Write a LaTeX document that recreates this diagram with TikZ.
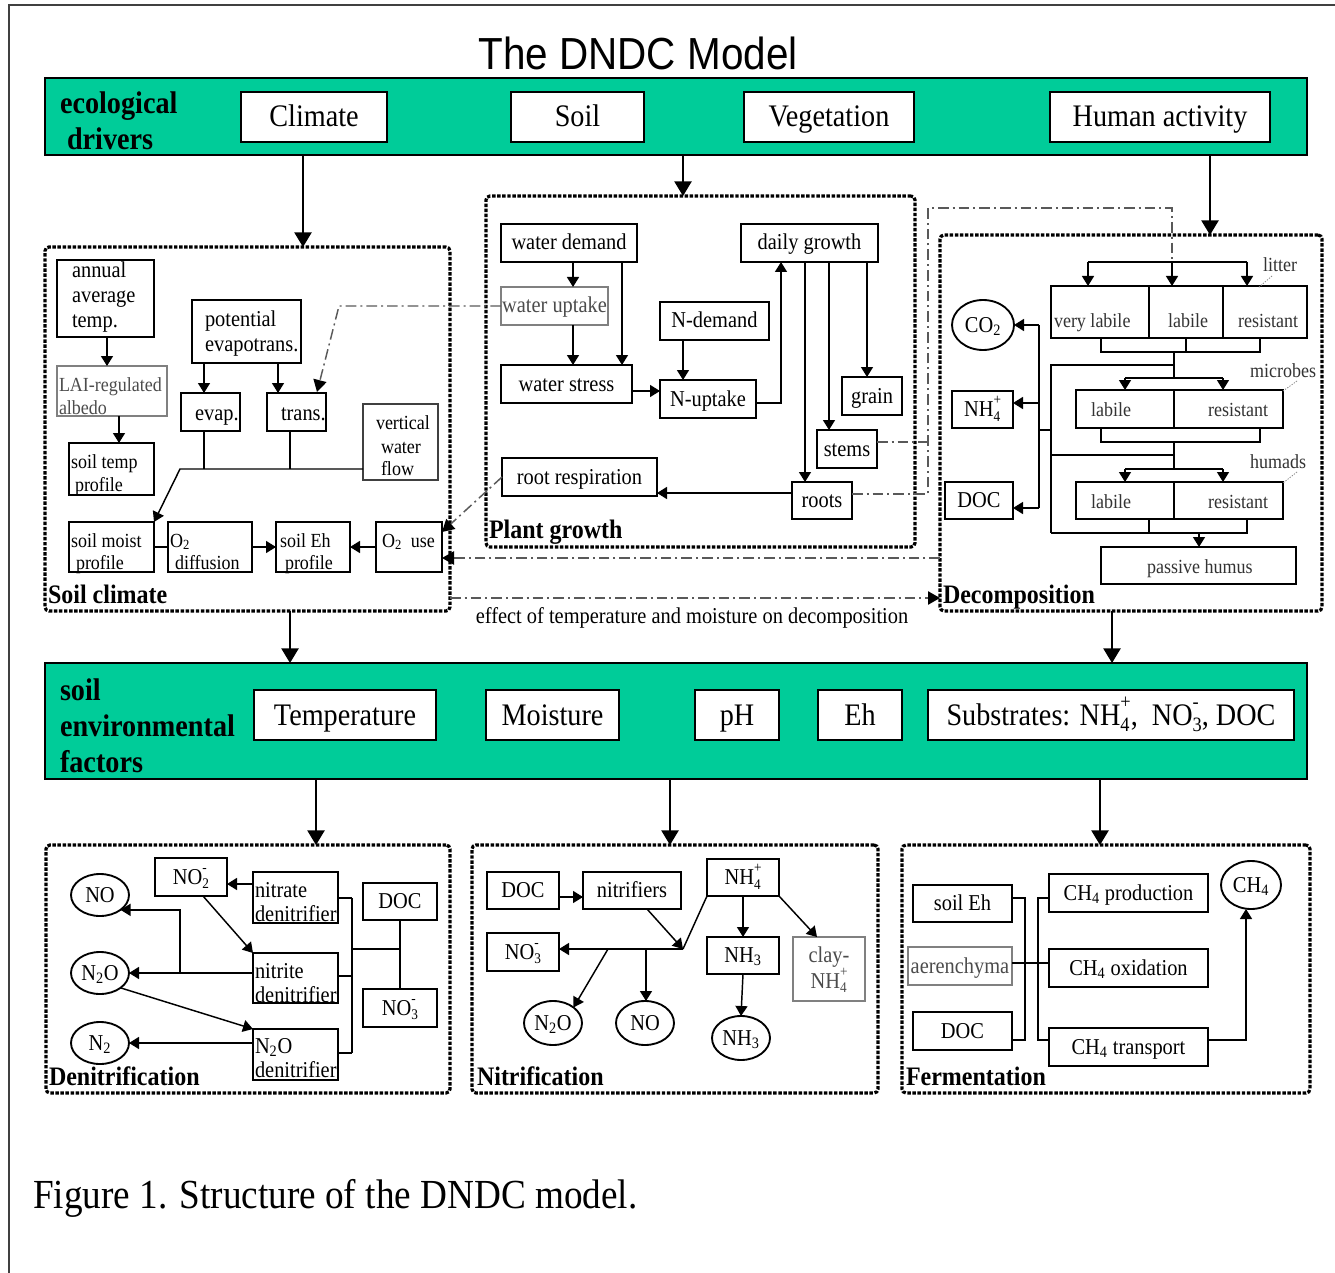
\documentclass[tikz,border=0pt]{standalone}
\usepackage{graphicx}
\usepackage{fontspec}
\setmainfont{Liberation Serif}[FakeStretch=0.9]
\newfontfamily\titlesans{Liberation Sans}[FakeStretch=0.9]
\usetikzlibrary{arrows.meta,shapes.geometric}
\definecolor{bandgreen}{RGB}{0,204,153}

% font sizes
\newcommand\sizeA{\fontsize{23.5}{28}\selectfont}
\newcommand\sizeB{\fontsize{17}{20}\selectfont}
\newcommand\sizeC{\fontsize{15}{18}\selectfont}
\newcommand\sizeL{\fontsize{20}{24}\selectfont}

% stacked subscript/superscript (NH4+, NO3-)
\newcommand\ssup[2]{%
  \sbox0{\raisebox{-0.22em}{\scalebox{0.65}{#1}}}%
  \sbox2{\raisebox{0.52em}{\scalebox{0.65}{#2}}}%
  \ifdim\wd0>\wd2 \rlap{\usebox2}\usebox0\else\rlap{\usebox0}\usebox2\fi}

% box given by its corners (pixel coordinates, y downward)
\newcommand\mkbox[7][]{%
  \pgfmathsetmacro\bxcx{(#3+#5)/2}%
  \pgfmathsetmacro\bxcy{(#4+#6)/2}%
  \pgfmathsetmacro\bxw{(#5-#3)*0.75}%
  \pgfmathsetmacro\bxh{(#6-#4)*0.75}%
  \node[bx,minimum width=\bxw pt,minimum height=\bxh pt,#1] (#2) at (\bxcx,\bxcy) {#7};}
% ellipse given by centre and radii
\newcommand\mkell[7][]{%
  \pgfmathsetmacro\elw{#5*1.5}\pgfmathsetmacro\elh{#6*1.5}%
  \node[ell,minimum width=\elw pt,minimum height=\elh pt,#1] (#2) at (#3,#4) {#7};}
% text placed on its baseline
\newcommand\putl[4][]{\node[anchor=base west,#1] (#2) at (#3) {#4};}
\newcommand\putc[4][]{\node[anchor=base,#1] (#2) at (#3) {#4};}

\begin{document}
\begin{tikzpicture}[x=0.75pt,y=-0.75pt,
  every node/.style={inner sep=0pt,outer sep=0pt},
  bx/.style={draw=black,line width=1.4pt,fill=white},
  fa/.style={font=\sizeA,text height=17pt,text depth=2pt},
  fb/.style={font=\sizeB,text height=12pt,text depth=1.5pt},
  gbox/.style={draw=black!50,line width=1.2pt,text=black!70},
  frm/.style={draw=black,fill=none,line width=2.4pt,dash pattern=on 2.6pt off 1.2pt,rounded corners=3pt},
  bandbox/.style={draw=black,fill=bandgreen,line width=1.6pt},
  ell/.style={ellipse,draw=black,line width=1.4pt,fill=white},
  ln/.style={draw=black,line width=1.1pt},
  arr/.style={ln,-{Triangle[length=7.5pt,width=9pt]}},
  bigarr/.style={ln,-{Triangle[length=11pt,width=13pt]}},
  dd/.style={draw=black!65,line width=1.1pt,dash pattern=on 8pt off 3pt on 1.5pt off 3pt},
  ddarr/.style={dd,-{Triangle[length=9pt,width=10pt,color=black]}},
  lead/.style={draw=black!45,line width=0.6pt,dash pattern=on 1pt off 1pt},
  dtext/.style={font=\sizeC,text=black!80},
]
\useasboundingbox (0,0) rectangle (1335,1273);

% page frame
\draw[line width=1.8pt,draw=black!75] (9,1273) -- (9,5) -- (1335,5);

% title
\putc[font=\titlesans\fontsize{33.7}{40}\selectfont]{title}{638,70}{The DNDC Model}

% ---------------- ecological drivers ----------------
\mkbox[bandbox]{drv}{45}{78}{1307}{155}{}
\mkbox[fa]{climate}{241}{92}{387}{142}{Climate}
\mkbox[fa]{soil}{511}{92}{644}{142}{Soil}
\mkbox[fa]{veg}{744}{92}{914}{142}{Vegetation}
\mkbox[fa]{human}{1050}{92}{1270}{142}{Human activity}
\putl[font=\bfseries\sizeA]{drvA}{60,114}{ecological}
\putl[font=\bfseries\sizeA]{drvB}{67,150}{drivers}

% ---------------- sub-model frames ----------------
\mkbox[frm]{sclim}{45}{247}{450}{611}{}
\mkbox[frm]{pgrow}{486}{196}{915}{547}{}
\mkbox[frm]{decomp}{940}{235}{1322}{611}{}
\mkbox[frm]{denit}{46}{845}{450}{1093}{}
\mkbox[frm]{nitri}{472}{845}{878}{1093}{}
\mkbox[frm]{ferm}{902}{845}{1310}{1093}{}

% ---------------- soil climate ----------------
\mkbox{annual}{57}{260}{154}{337}{}
\putl[font=\sizeB]{annualA}{72,277}{annual}
\putl[font=\sizeB]{annualB}{72,302}{average}
\putl[font=\sizeB]{annualC}{72,327}{temp.}
\mkbox[gbox]{lai}{57}{366}{167}{416}{}
\putl[font=\sizeC,text=black!70]{laiA}{59,391}{LAI-regulated}
\putl[font=\sizeC,text=black!70]{laiB}{59,414}{albedo}
\mkbox{stemp}{69}{443}{154}{495}{}
\putl[font=\sizeC]{stempA}{71,468}{soil temp}
\putl[font=\sizeC]{stempB}{75,491}{profile}
\mkbox{pet}{192}{300}{301}{363}{}
\putl[font=\sizeB]{petA}{205,326}{potential}
\putl[font=\sizeB]{petB}{205,351}{evapotrans.}
\mkbox{evap}{181}{393}{240}{431}{}
\putl[font=\sizeB]{evapT}{195,420}{evap.}
\mkbox{trans}{267}{393}{326}{431}{}
\putl[font=\sizeB]{transT}{281,420}{trans.}
\mkbox[draw=black!75,line width=1.2pt]{vwf}{363}{404}{438}{480}{}
\putl[font=\sizeC]{vwfA}{376,429}{vertical}
\putl[font=\sizeC]{vwfB}{381,453}{water}
\putl[font=\sizeC]{vwfC}{381,475}{flow}
\mkbox{smoist}{69}{522}{154}{572}{}
\putl[font=\sizeC]{smoistA}{71,547}{soil moist}
\putl[font=\sizeC]{smoistB}{76,569}{profile}
\mkbox{otwod}{168}{522}{252}{572}{}
\putl[font=\sizeC]{otwodA}{170,547}{O\textsubscript{2}}
\putl[font=\sizeC]{otwodB}{175,569}{diffusion}
\mkbox{seh}{276}{522}{350}{572}{}
\putl[font=\sizeC]{sehA}{280,547}{soil Eh}
\putl[font=\sizeC]{sehB}{285,569}{profile}
\mkbox{otwou}{376}{522}{442}{572}{}
\putl[font=\sizeC]{otwouT}{382,547}{O\textsubscript{2}\ \ use}
\putl[font=\bfseries\sizeL]{sclimL}{48,603}{Soil climate}

% ---------------- plant growth ----------------
\mkbox[fb]{wdem}{501}{224}{637}{262}{water demand}
\mkbox[gbox,fb]{wupt}{501}{287}{608}{325}{water uptake}
\mkbox[fb]{wstr}{501}{365}{632}{403}{water stress}
\mkbox[fb]{ndem}{660}{302}{769}{340}{N-demand}
\mkbox[fb]{nupt}{660}{380}{756}{418}{N-uptake}
\mkbox[fb]{dgro}{741}{224}{878}{262}{daily growth}
\mkbox[fb]{grain}{842}{377}{902}{415}{grain}
\mkbox[fb]{stems}{817}{430}{877}{468}{stems}
\mkbox[fb]{roots}{792}{482}{852}{519}{roots}
\mkbox[fb]{rresp}{502}{458}{657}{496}{root respiration}
\putl[font=\bfseries\sizeL]{pgrowL}{489,538}{Plant growth}

% ---------------- decomposition ----------------
\mkbox{lvl}{1051}{286}{1149}{338}{}
\mkbox{llab}{1149}{286}{1223}{338}{}
\mkbox{lres}{1223}{286}{1307}{338}{}
\putl[dtext]{lvlT}{1054,327}{very labile}
\putl[dtext]{llabT}{1168,327}{labile}
\putl[dtext]{lresT}{1238,327}{resistant}
\mkbox{mlab}{1076}{390}{1174}{428}{}
\mkbox{mres}{1174}{390}{1283}{428}{}
\putl[dtext]{mlabT}{1091,416}{labile}
\putl[dtext]{mresT}{1208,416}{resistant}
\mkbox{hlab}{1076}{482}{1174}{519}{}
\mkbox{hres}{1174}{482}{1283}{519}{}
\putl[dtext]{hlabT}{1091,508}{labile}
\putl[dtext]{hresT}{1208,508}{resistant}
\mkbox{phum}{1101}{547}{1296}{584}{}
\putl[dtext]{phumT}{1147,573}{passive humus}
\putl[dtext]{litT}{1263,272}{litter}
\putl[dtext]{micT}{1250,377}{microbes}
\putl[dtext]{humT}{1250,468}{humads}
\mkell[fb]{co2}{983}{325}{31}{25}{CO\textsubscript{2}}
\mkbox[fb]{nhd}{952}{391}{1013}{428}{NH\ssup{4}{+}}
\mkbox[fb]{ddoc}{945}{482}{1013}{519}{DOC}
\putl[font=\bfseries\sizeL]{decompL}{943,603}{Decomposition}

\putc[font=\sizeB]{effT}{692,623}{effect of temperature and moisture on decomposition}

% ---------------- soil environmental factors ----------------
\mkbox[bandbox]{envf}{45}{663}{1307}{779}{}
\putl[font=\bfseries\sizeA]{envA}{60,700}{soil}
\putl[font=\bfseries\sizeA]{envB}{60,736}{environmental}
\putl[font=\bfseries\sizeA]{envC}{60,772}{factors}
\mkbox[fa]{temp}{254}{690}{436}{740}{Temperature}
\mkbox[fa]{moist}{486}{690}{619}{740}{Moisture}
\mkbox[fa]{ph}{695}{690}{779}{740}{pH}
\mkbox[fa]{eh}{818}{690}{902}{740}{Eh}
\mkbox[fa]{subs}{928}{690}{1294}{740}{Substrates: NH\ssup{4}{+}, \ NO\ssup{3}{-}, DOC}

% ---------------- denitrification ----------------
\mkell[fb]{dno}{100}{895}{29}{21}{NO}
\mkell[fb]{dntwo}{100}{973}{29}{21}{N\textsubscript{2}O}
\mkell[fb]{dnn}{100}{1043}{29}{21}{N\textsubscript{2}}
\mkbox[fb]{dnotwo}{155}{858}{227}{896}{NO\ssup{2}{-}}
\mkbox{dnat}{253}{872}{338}{923}{}
\putl[font=\sizeB]{dnatA}{255,897}{nitrate}
\putl[font=\sizeB]{dnatB}{255,921}{denitrifier}
\mkbox{dnit}{253}{953}{338}{1003}{}
\putl[font=\sizeB]{dnitA}{255,978}{nitrite}
\putl[font=\sizeB]{dnitB}{255,1002}{denitrifier}
\mkbox{dnod}{253}{1029}{338}{1080}{}
\putl[font=\sizeB]{dnodA}{255,1053}{N\textsubscript{2}O}
\putl[font=\sizeB]{dnodB}{255,1077}{denitrifier}
\mkbox[fb]{ddocb}{363}{883}{437}{920}{DOC}
\mkbox[fb]{dnothree}{363}{989}{437}{1027}{NO\ssup{3}{-}}
\putl[font=\bfseries\sizeL]{denitL}{49,1085}{Denitrification}

% ---------------- nitrification ----------------
\mkbox[fb]{ndoc}{487}{872}{559}{909}{DOC}
\mkbox[fb]{nitf}{583}{872}{681}{909}{nitrifiers}
\mkbox[fb]{nnhf}{707}{859}{779}{896}{NH\ssup{4}{+}}
\mkbox[fb]{nnothree}{487}{933}{559}{971}{NO\ssup{3}{-}}
\mkbox[fb]{nnhb}{707}{937}{779}{974}{NH\textsubscript{3}}
\mkbox[gbox]{clay}{793}{937}{865}{1001}{}
\putc[font=\sizeB,text=black!70]{clayA}{829,962}{clay-}
\putc[font=\sizeB,text=black!70]{clayB}{829,988}{NH\ssup{4}{+}}
\mkell[fb]{nntwo}{553}{1023}{29}{22}{N\textsubscript{2}O}
\mkell[fb]{nno}{645}{1023}{29}{22}{NO}
\mkell[fb]{nnhe}{741}{1038}{29}{22}{NH\textsubscript{3}}
\coordinate (jn) at (683,949);
\putl[font=\bfseries\sizeL]{nitriL}{477,1085}{Nitrification}

% ---------------- fermentation ----------------
\mkbox[fb]{feh}{913}{885}{1012}{922}{soil Eh}
\mkbox[gbox,fb]{faer}{908}{947}{1012}{985}{aerenchyma}
\mkbox[fb]{fdoc}{913}{1012}{1012}{1050}{DOC}
\mkbox[fb]{fprod}{1049}{874}{1208}{912}{CH\textsubscript{4} production}
\mkbox[fb]{foxi}{1049}{949}{1208}{987}{CH\textsubscript{4} oxidation}
\mkbox[fb]{ftra}{1049}{1028}{1208}{1066}{CH\textsubscript{4} transport}
\mkell[fb]{fch}{1251}{885}{30}{24}{CH\textsubscript{4}}
\putl[font=\bfseries\sizeL]{fermL}{906,1085}{Fermentation}

% caption
\putl[font=\fontsize{31}{36}\selectfont]{caption}{33,1208}{Figure 1. Structure of the DNDC model.}

% ================= connectors =================
% between the bands and the sub-models
\draw[bigarr] (303,0 |- drv.south) -- (303,0 |- sclim.north);
\draw[bigarr] (683,0 |- drv.south) -- (683,0 |- pgrow.north);
\draw[bigarr] (1210,0 |- drv.south) -- (1210,0 |- decomp.north);
\draw[bigarr] (290,0 |- sclim.south) -- (290,0 |- envf.north);
\draw[bigarr] (1112,0 |- decomp.south) -- (1112,0 |- envf.north);
\draw[bigarr] (316,0 |- envf.south) -- (316,0 |- denit.north);
\draw[bigarr] (670,0 |- envf.south) -- (670,0 |- nitri.north);
\draw[bigarr] (1100,0 |- envf.south) -- (1100,0 |- ferm.north);

% soil climate
\draw[arr] (107,0 |- annual.south) -- (107,0 |- lai.north);
\draw[arr] (119,0 |- lai.south) -- (119,0 |- stemp.north);
\draw[arr] (204,0 |- pet.south) -- (204,0 |- evap.north);
\draw[arr] (278,0 |- pet.south) -- (278,0 |- trans.north);
\draw[ln] (204,0 |- evap.south) -- (204,469);
\draw[ln] (290,0 |- trans.south) -- (290,469);
\draw[arr] (vwf.west |- 0,469) -- (180,469) -- (smoist.north east);
\draw[ln] (smoist.east |- 0,547) -- (otwod.west |- 0,547);
\draw[arr] (otwod.east |- 0,547) -- (seh.west |- 0,547);
\draw[arr] (otwou.west |- 0,547) -- (seh.east |- 0,547);

% dash-dot links between sub-models
\draw[ddarr] (wupt.west) -- (339,0 |- wupt.west) -- (317,392);
\draw[ddarr] (rresp.west) -- (otwou.east |- 0,532);
\draw[ddarr] (decomp.west |- 0,558) -- (otwou.east |- 0,558);
\draw[ddarr] (sclim.east |- 0,598) -- (decomp.west |- 0,598);
\draw[dd] (stems.east |- 0,442) -- (928,442);
\draw[dd] (roots.east |- 0,494) -- (928,494) -- (928,208) -- (1172,208) -- (1172,262);

% plant growth
\draw[arr] (573,0 |- wdem.south) -- (573,0 |- wupt.north);
\draw[arr] (573,0 |- wupt.south) -- (573,0 |- wstr.north);
\draw[arr] (622,0 |- wdem.south) -- (622,0 |- wstr.north);
\draw[arr] (wstr.east |- 0,391) -- (nupt.west |- 0,391);
\draw[arr] (683,0 |- ndem.south) -- (683,0 |- nupt.north);
\draw[arr] (nupt.east |- 0,403) -- (781,403) -- (781,0 |- dgro.south);
\draw[arr] (805,0 |- dgro.south) -- (805,0 |- roots.north);
\draw[arr] (829,0 |- dgro.south) -- (829,0 |- stems.north);
\draw[arr] (867,0 |- dgro.south) -- (867,0 |- grain.north);
\draw[arr] (roots.west |- 0,493) -- (rresp.east |- 0,493);

% decomposition pools
\draw[ln] (1088,262) -- (1247,262);
\draw[arr] (1088,262) -- (1088,0 |- lvl.north);
\draw[arr] (1172,262) -- (1172,0 |- llab.north);
\draw[arr] (1247,262) -- (1247,0 |- lres.north);
\draw[ln] (1101,0 |- lvl.south) -- (1101,352) -- (1260,352) -- (1260,0 |- lres.south);
\draw[ln] (1186,0 |- llab.south) -- (1186,352);
\draw[ln] (1174,352) -- (1174,378);
\draw[ln] (1174,365) -- (1051,365) -- (1051,533);
\draw[ln] (1125,378) -- (1223,378);
\draw[arr] (1125,378) -- (1125,0 |- mlab.north);
\draw[arr] (1223,378) -- (1223,0 |- mres.north);
\draw[ln] (1101,0 |- mlab.south) -- (1101,442) -- (1260,442) -- (1260,0 |- mres.south);
\draw[ln] (1174,442) -- (1174,469);
\draw[ln] (1174,455) -- (1051,455);
\draw[ln] (1125,469) -- (1223,469);
\draw[arr] (1125,469) -- (1125,0 |- hlab.north);
\draw[arr] (1223,469) -- (1223,0 |- hres.north);
\draw[ln] (1149,0 |- hlab.south) -- (1149,533) -- (1247,533) -- (1247,0 |- hres.south);
\draw[ln] (1051,533) -- (1149,533);
\draw[arr] (1199,533) -- (1199,0 |- phum.north);
\draw[ln] (1051,430) -- (1039,430);
\draw[ln] (1039,325) -- (1039,508);
\draw[arr] (1039,0 |- co2.east) -- (co2.east);
\draw[arr] (1039,403) -- (nhd.east |- 0,403);
\draw[arr] (1039,508) -- (ddoc.east |- 0,508);
\draw[lead] (1272,276) -- (1258,288);
\draw[lead] (1297,381) -- (1283,391);
\draw[lead] (1297,472) -- (1283,483);

% denitrification
\draw[arr] (dnat.west |- 0,884) -- (dnotwo.east |- 0,884);
\draw[arr] (203,0 |- dnotwo.south) -- (dnit.north west);
\draw[arr] (dnit.west |- dntwo.east) -- (dntwo.east);
\draw[arr] (180,0 |- dntwo.east) -- (180,0 |- dno.south east) -- (dno.south east);
\draw[arr] (dntwo.south east) -- (dnod.north west);
\draw[arr] (dnod.west |- dnn.east) -- (dnn.east);
\draw[ln] (ddocb.south) -- (dnothree.north);
\draw[ln] (400,949) -- (352,949);
\draw[ln] (352,898) -- (352,1053);
\draw[ln] (dnat.east |- 0,898) -- (352,898);
\draw[ln] (dnit.east |- 0,976) -- (352,976);
\draw[ln] (dnod.east |- 0,1053) -- (352,1053);

% nitrification
\draw[arr] (ndoc.east |- 0,897) -- (nitf.west |- 0,897);
\draw[arr] (647,0 |- nitf.south) -- (jn);
\draw[ln] (nnhf.south west) -- (jn);
\draw[arr] (jn) -- (jn -| nnothree.east);
\draw[arr] (608,949) -- (nntwo.north east);
\draw[arr] (646,949) -- (646,0 |- nno.north);
\draw[arr] (nnhf.south) -- (nnhb.north);
\draw[arr] (nnhb.south) -- (nnhe.north);
\draw[arr] (nnhf.south east) -- (817,0 |- clay.north);

% fermentation
\draw[ln] (feh.east |- 0,898) -- (1025,898) -- (1025,1040) -- (fdoc.east |- 0,1040);
\draw[ln] (fprod.west |- 0,898) -- (1038,898) -- (1038,1040) -- (ftra.west |- 0,1040);
\draw[ln] (faer.east |- 0,963) -- (foxi.west |- 0,963);
\draw[arr] (ftra.east |- 0,1040) -- (1246,1040) -- (1246,0 |- fch.south);
\end{tikzpicture}
\end{document}
